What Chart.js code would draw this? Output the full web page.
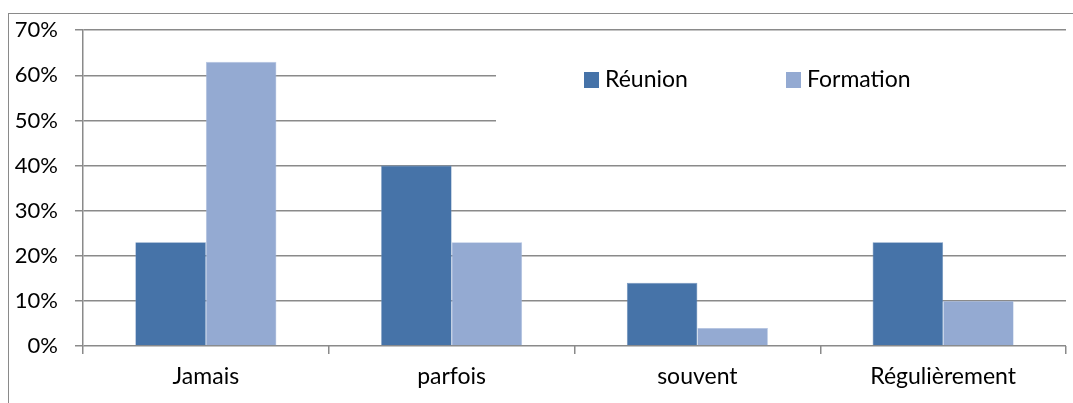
<!DOCTYPE html>
<html>
<head>
<meta charset="utf-8">
<script src="https://cdn.jsdelivr.net/npm/chart.js@4.4.1/dist/chart.umd.min.js"></script>
<style>
  html, body { margin: 0; padding: 0; background: #fff; }
  #wrap { position: relative; width: 1073px; height: 403px; }
  #frame { position: absolute; left: 8px; top: 13px; right: 0; bottom: 0;
           border-top: 1.5px solid #8a8a8a; border-left: 1.5px solid #8a8a8a; }
  canvas { position: absolute; left: 0; top: 0; }
</style>
</head>
<body>
<div id="wrap">
  <div id="frame"></div>
  <canvas id="chart" width="1073" height="403"></canvas>
</div>
<script>
// Data
const categories = ['Jamais', 'parfois', 'souvent', 'Régulièrement'];
const reunion = [23, 40, 14, 23];
const formation = [63, 23, 4, 10];
const seriesNames = ['Réunion', 'Formation'];

const gridColor = '#8a8a8a';
const fontFamily = 'Lato, "Open Sans", sans-serif';

// legend drawn inside the plot, on a white box that hides the gridlines behind it
const insideLegend = {
    id: 'insideLegend',
    beforeDatasetsDraw(chart) {
        const ctx = chart.ctx;
        const area = chart.chartArea;
        ctx.save();
        ctx.fillStyle = '#fff';
        ctx.fillRect(496, 48, area.right - 496 + 1, 100);
        ctx.font = '23px ' + fontFamily;
        ctx.textBaseline = 'middle';
        const xs = [584, 786];
        chart.data.datasets.forEach(function(ds, i) {
            ctx.fillStyle = ds.backgroundColor;
            ctx.fillRect(xs[i], 72, 15, 16);
            ctx.fillStyle = '#000';
            ctx.fillText(ds.label, xs[i] + 21, 80);
        });
        ctx.restore();
    }
};

const ctx = document.querySelector('#chart').getContext('2d');
const chart = new Chart(ctx, {
    type: 'bar',
    data: {
        labels: categories,
        datasets: [
            {
                label: seriesNames[0],
                data: reunion,
                backgroundColor: '#4673a8',
                borderColor: '#6f92bd',
                borderWidth: 0.6
            },
            {
                label: seriesNames[1],
                data: formation,
                backgroundColor: '#94aad2',
                borderColor: '#b5c6e3',
                borderWidth: 0.6
            }
        ]
    },
    options: {
        responsive: false,
        animation: false,
        layout: { padding: { left: 0, right: 7, top: 30, bottom: 0 } },
        categoryPercentage: 0.574,
        barPercentage: 1,
        plugins: {
            legend: { display: false },
            tooltip: { enabled: false }
        },
        scales: {
            x: {
                afterFit: function(s) { s.height = 57; },
                grid: {
                    drawOnChartArea: false,
                    drawTicks: true,
                    tickLength: 8,
                    color: gridColor,
                    lineWidth: 1.5
                },
                border: { display: false },
                ticks: {
                    color: '#000',
                    padding: 9,
                    maxRotation: 0,
                    font: { family: fontFamily, size: 23 }
                }
            },
            y: {
                min: 0,
                max: 70,
                afterFit: function(s) { s.width = 83; },
                grid: {
                    color: gridColor,
                    lineWidth: 1.5,
                    tickLength: 8
                },
                border: { color: gridColor, width: 1.5 },
                ticks: {
                    stepSize: 10,
                    color: '#000',
                    padding: 17,
                    font: { family: fontFamily, size: 22 },
                    callback: function(v) { return v + '%'; }
                }
            }
        }
    },
    plugins: [insideLegend]
});
</script>
</body>
</html>
